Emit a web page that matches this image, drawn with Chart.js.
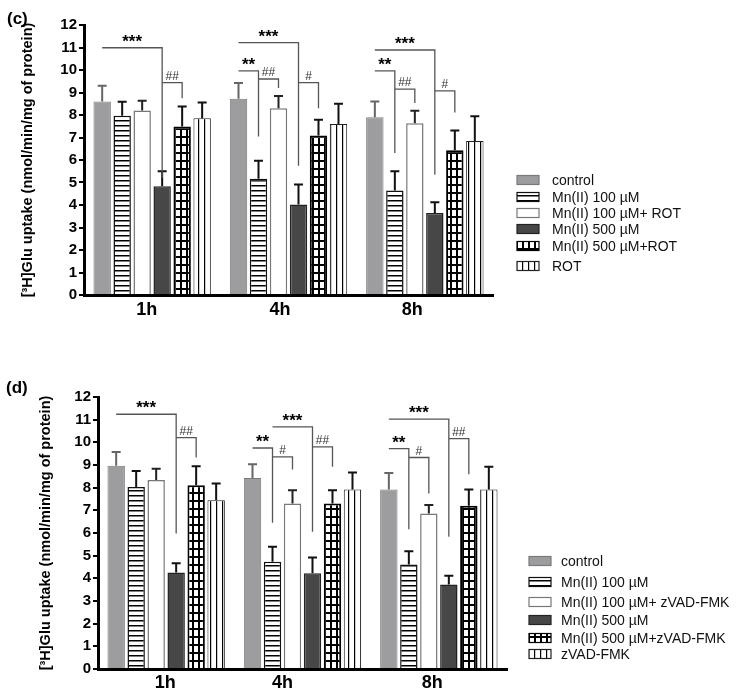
<!DOCTYPE html>
<html>
<head>
<meta charset="utf-8">
<script src="https://cdn.jsdelivr.net/npm/chart.js@4.4.1/dist/chart.umd.min.js"></script>
<style>
    html, body { margin: 0; padding: 0; background: #fff; }
    body { width: 736px; height: 694px; position: relative; overflow: hidden; }
    .painel { position: absolute; left: 0; width: 736px; }
    #painel-c { top: 0; height: 325px; }
    #painel-d { top: 340px; height: 354px; }
</style>
</head>
<body>

<div class="painel" id="painel-c"><canvas id="grafico-c"></canvas></div>
<div class="painel" id="painel-d"><canvas id="grafico-d"></canvas></div>

<script>

// =============================
// DADOS
// =============================

const tempos = ["1h", "4h", "8h"];

const nomesC = ["control", "Mn(II) 100 µM", "Mn(II) 100 µM+ ROT", "Mn(II) 500 µM", "Mn(II) 500 µM+ROT", "ROT"];
const nomesD = ["control", "Mn(II) 100 µM", "Mn(II) 100 µM+ zVAD-FMK", "Mn(II) 500 µM", "Mn(II) 500 µM+zVAD-FMK", "zVAD-FMK"];

// painel (c) - medias
const controlC = [8.6, 8.72, 7.9];
const mn100C = [7.97, 5.17, 4.64];
const mn100RotC = [8.2, 8.3, 7.63];
const mn500C = [4.83, 4.02, 3.64];
const mn500RotC = [7.49, 7.09, 6.43];
const rotC = [7.86, 7.6, 6.84];

// painel (c) - erro padrao
const controlErrC = [0.7, 0.7, 0.7];
const mn100ErrC = [0.62, 0.8, 0.86];
const mn100RotErrC = [0.43, 0.55, 0.56];
const mn500ErrC = [0.67, 0.89, 0.48];
const mn500RotErrC = [0.89, 0.7, 0.88];
const rotErrC = [0.7, 0.9, 1.1];

// painel (d) - medias
const controlD = [8.97, 8.43, 7.92];
const mn100D = [8.03, 4.73, 4.61];
const mn100ZvadD = [8.34, 7.3, 6.86];
const mn500D = [4.26, 4.22, 3.73];
const mn500ZvadD = [8.11, 7.3, 7.2];
const zvadD = [7.45, 7.92, 7.92];

// painel (d) - erro padrao
const controlErrD = [0.6, 0.6, 0.73];
const mn100ErrD = [0.71, 0.66, 0.59];
const mn100ZvadErrD = [0.49, 0.59, 0.37];
const mn500ErrD = [0.4, 0.7, 0.38];
const mn500ZvadErrD = [0.84, 0.59, 0.72];
const zvadErrD = [0.73, 0.75, 1.0];

// significancia: [grupo, barra A, barra B, nivel, desce ate, texto]
const sigC = [
    [0, 0, 3, 10.99, 5.2, "***"], [0, 3, 4, 9.44, 8.75, "##"],
    [1, 0, 1, 9.96, 7.05, "**"], [1, 0, 3, 11.22, 5.75, "***"], [1, 1, 2, 9.6, 9.2, "##"], [1, 3, 4, 9.44, 8.3, "#"],
    [2, 0, 3, 10.89, 5.35, "***"], [2, 0, 1, 9.96, 6.31, "**"], [2, 1, 2, 9.15, 8.53, "##"], [2, 3, 4, 9.07, 8.11, "#"]
];

const sigD = [
    [0, 0, 3, 11.24, 5.98, "***"], [0, 3, 4, 10.21, 9.33, "##"],
    [1, 0, 1, 9.75, 6.45, "**"], [1, 1, 3, 10.68, 6.05, "***"], [1, 1, 2, 9.36, 8.8, "#"], [1, 3, 4, 9.8, 8.92, "##"],
    [2, 0, 3, 11.02, 5.83, "***"], [2, 0, 1, 9.72, 6.17, "**"], [2, 1, 2, 9.33, 7.74, "#"], [2, 3, 4, 10.16, 8.59, "##"]
];

// =============================
// ESTILOS
// =============================

function padrao(tipo) {

    const c = document.createElement("canvas");

    if (tipo === "hlines") { c.width = 5; c.height = 5; }
    if (tipo === "grid") { c.width = 6; c.height = 8; }
    if (tipo === "vlines") { c.width = 6; c.height = 6; }

    const ctx = c.getContext("2d");
    ctx.fillStyle = "#fff";
    ctx.fillRect(0, 0, c.width, c.height);
    ctx.fillStyle = "#000";

    if (tipo === "hlines") ctx.fillRect(0, 0, 5, 1.5);
    if (tipo === "grid") { ctx.fillRect(0, 0, 2, 8); ctx.fillRect(0, 0, 6, 2); }
    if (tipo === "vlines") ctx.fillRect(0, 0, 1.2, 6);

    return document.createElement("canvas").getContext("2d").createPattern(c, "repeat");

}

const estilos = [
    { fill: "#9d9d9f", border: "#7a7a7a", width: 1, err: "#666" },
    { fill: padrao("hlines"), border: "#111", width: 1.5, err: "#111" },
    { fill: "#ffffff", border: "#777", width: 1.5, err: "#222" },
    { fill: "#474747", border: "#222", width: 1.5, err: "#111" },
    { fill: padrao("grid"), border: "#000", width: 2, err: "#111" },
    { fill: padrao("vlines"), border: "#222", width: 1, err: "#111" }
];

const FONTE = "Arial, 'Liberation Sans', sans-serif";

// =============================
// PLUGIN: erros, colchetes, legenda
// =============================

const extrasPlugin = {

    id: "extras",

    afterDatasetsDraw(chart, args, opts) {

        const ctx = chart.ctx;
        const y = chart.scales.y;

        ctx.save();

        // barras de erro
        chart.data.datasets.forEach((ds, i) => {
            const meta = chart.getDatasetMeta(i);
            meta.data.forEach((bar, j) => {
                const topo = y.getPixelForValue(ds.data[j] + ds.errors[j]);
                ctx.strokeStyle = estilos[i].err;
                ctx.lineWidth = 2;
                ctx.beginPath();
                ctx.moveTo(bar.x, bar.y);
                ctx.lineTo(bar.x, topo);
                ctx.moveTo(bar.x - 4.5, topo);
                ctx.lineTo(bar.x + 4.5, topo);
                ctx.stroke();
            });
        });

        // colchetes de significancia
        opts.sig.forEach(s => {
            const [g, a, b, nivel, fim, texto] = s;
            const xa = chart.getDatasetMeta(a).data[g].x;
            const xb = chart.getDatasetMeta(b).data[g].x;
            const yl = y.getPixelForValue(nivel);
            const yf = y.getPixelForValue(fim);

            ctx.strokeStyle = "#555";
            ctx.lineWidth = 1.3;
            ctx.beginPath();
            ctx.moveTo(xa, yl);
            ctx.lineTo(xb, yl);
            ctx.lineTo(xb, yf);
            ctx.stroke();

            ctx.textAlign = "center";
            ctx.textBaseline = "alphabetic";
            if (texto.startsWith("*")) {
                ctx.font = "bold 17px " + FONTE;
                ctx.fillStyle = "#000";
                ctx.fillText(texto, (xa + xb) / 2, yl - 1);
            } else {
                ctx.font = "12px " + FONTE;
                ctx.fillStyle = "#333";
                ctx.fillText(texto, (xa + xb) / 2, yl - 3);
            }
        });

        ctx.restore();

    },

    afterDraw(chart, args, opts) {

        const ctx = chart.ctx;
        const x = chart.scales.x;

        ctx.save();

        // rotulos do eixo x
        ctx.font = "bold 18px " + FONTE;
        ctx.fillStyle = "#000";
        ctx.textAlign = "center";
        ctx.textBaseline = "middle";
        chart.data.labels.forEach((lab, i) => {
            ctx.fillText(lab, x.getPixelForTick(i) + opts.shift[i], chart.chartArea.bottom + opts.labelDy);
        });

        // letra do painel
        ctx.font = "bold 17px " + FONTE;
        ctx.textAlign = "left";
        ctx.fillText(opts.letra, opts.letraX, opts.letraY);

        // legenda
        ctx.font = "14px " + FONTE;
        chart.data.datasets.forEach((ds, i) => {
            const yc = opts.legY[i];
            ctx.fillStyle = estilos[i].fill;
            ctx.fillRect(opts.legX, yc - 4.5, 22, 9);
            ctx.strokeStyle = estilos[i].border;
            ctx.lineWidth = 1.2;
            ctx.strokeRect(opts.legX, yc - 4.5, 22, 9);
            ctx.fillStyle = "#111";
            ctx.fillText(ds.label, opts.legTextX, yc + 1);
        });

        ctx.restore();

    }

};

// =============================
// GRAFICO
// =============================

function criarGrafico(id, nomes, medias, erros, sig, layout) {

    const datasets = nomes.map((nome, i) => ({
        label: nome,
        data: medias[i],
        errors: erros[i],
        backgroundColor: estilos[i].fill,
        borderColor: estilos[i].border,
        borderWidth: estilos[i].width,
        categoryPercentage: 0.88,
        barPercentage: 0.87
    }));

    return new Chart(document.getElementById(id), {
        type: "bar",
        data: { labels: tempos, datasets: datasets },
        options: {
            responsive: true,
            maintainAspectRatio: false,
            animation: false,
            layout: { padding: layout.padding },
            plugins: {
                legend: { display: false },
                tooltip: { enabled: false },
                extras: Object.assign({ sig: sig }, layout)
            },
            scales: {
                x: {
                    grid: { display: false },
                    border: { color: "#000", width: 3 },
                    ticks: { display: false },
                    afterFit: s => { s.height = layout.xHeight; }
                },
                y: {
                    min: 0,
                    max: 12,
                    ticks: { stepSize: 1, color: "#000", padding: 2, font: { family: FONTE, size: 15, weight: "bold" } },
                    grid: { drawOnChartArea: false, drawTicks: true, tickLength: 5, lineWidth: 2, color: "#000" },
                    border: { color: "#000", width: 3 },
                    title: {
                        display: true,
                        text: "[³H]Glu uptake (nmol/min/mg of protein)",
                        color: "#000",
                        font: { family: FONTE, size: 14.5, weight: "bold" },
                        padding: { top: layout.titlePad, bottom: 0 }
                    },
                    afterFit: s => { s.width = layout.yWidth; }
                }
            }
        },
        plugins: [extrasPlugin]
    });

}

criarGrafico("grafico-c", nomesC,
    [controlC, mn100C, mn100RotC, mn500C, mn500RotC, rotC],
    [controlErrC, mn100ErrC, mn100RotErrC, mn500ErrC, mn500RotErrC, rotErrC],
    sigC,
    {
        padding: { left: 0, top: 25, right: 243, bottom: 0 },
        xHeight: 30, yWidth: 84, titlePad: 19,
        shift: [-5.5, -8.5, -12.5], labelDy: 15,
        letra: "(c)", letraX: 7, letraY: 19,
        legX: 517, legTextX: 552, legY: [180, 197, 213, 229, 246, 266]
    });

criarGrafico("grafico-d", nomesD,
    [controlD, mn100D, mn100ZvadD, mn500D, mn500ZvadD, zvadD],
    [controlErrD, mn100ErrD, mn100ZvadErrD, mn500ErrD, mn500ZvadErrD, zvadErrD],
    sigD,
    {
        padding: { left: 0, top: 57, right: 229, bottom: 0 },
        xHeight: 25, yWidth: 98, titlePad: 37,
        shift: [-1, -20, -6.5], labelDy: 14,
        letra: "(d)", letraX: 6, letraY: 48,
        legX: 529, legTextX: 561, legY: [221, 242, 262, 280, 298, 314]
    });

</script>
</body>
</html>
